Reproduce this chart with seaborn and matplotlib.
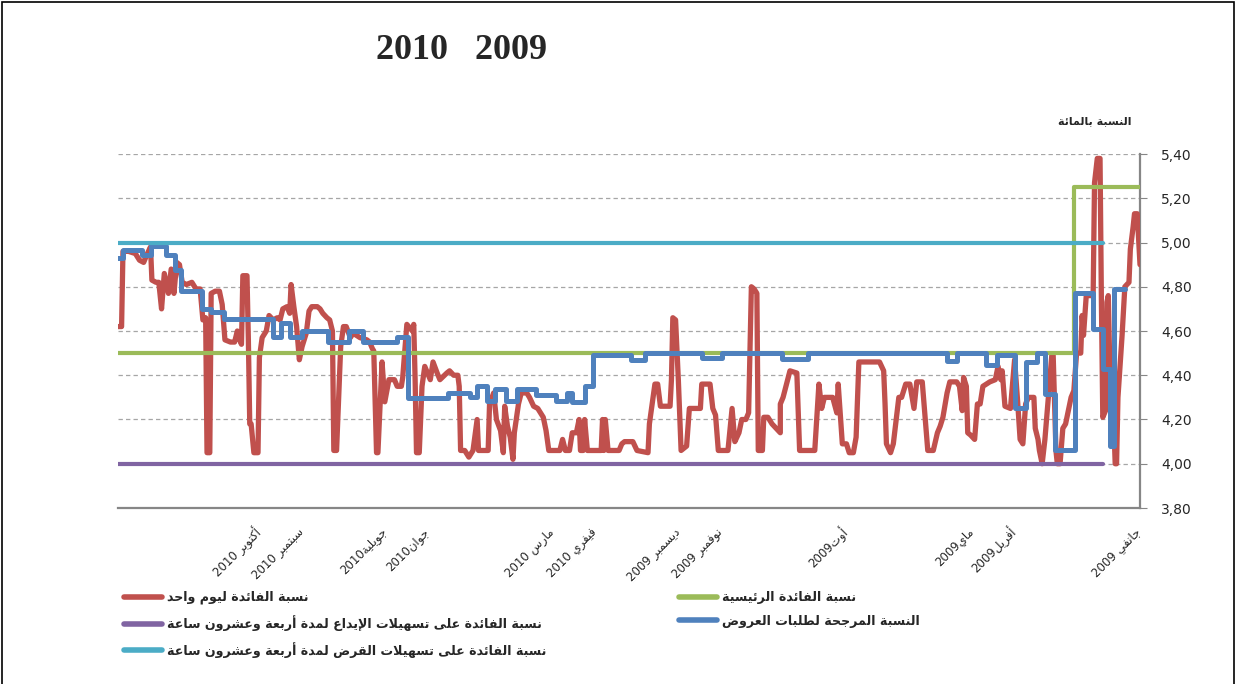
import re
import numpy as np
import pandas as pd
import matplotlib
matplotlib.use("Agg")
import matplotlib.pyplot as plt
import seaborn as sns
from matplotlib.patches import Rectangle
from matplotlib.lines import Line2D

sns.set_style("white")
plt.rcParams['font.family'] = ['DejaVu Sans']

# ---- data (x = day offset from 1 Jan 2009, axis runs right-to-left) ----
red_days = [0, 2, 4, 5, 7, 8, 11, 13, 15, 16, 17, 18, 20, 22, 23, 24, 25, 27, 28, 29,
            31, 33, 34, 39, 40, 41, 42, 43, 46, 48, 50, 52, 54, 56, 58, 60, 61, 63, 64, 69,
            71, 73, 74, 76, 77, 81, 83, 85, 87, 89, 91, 94, 98, 100, 101, 103, 105, 109, 114, 116,
            118, 120, 123, 125, 126, 128, 129, 131, 133, 138, 140, 143, 145, 147, 150, 154, 158, 162, 164, 167,
            170, 173, 175, 179, 181, 184, 185, 186, 189, 204, 206, 208, 211, 213, 216, 219, 220, 223, 229, 231,
            233, 236, 247, 249, 254, 259, 261, 261, 267, 270, 273, 274, 277, 278, 280, 282, 284, 286, 289, 291,
            294, 296, 299, 306, 308, 310, 312, 318, 319, 327, 329, 333, 335, 337, 339, 340, 341, 348, 350, 352,
            356, 357, 365, 368, 374, 376, 378, 386, 388, 389, 390, 391, 401, 403, 404, 406, 407, 409, 412, 414,
            417, 419, 421, 429, 431, 433, 437, 440, 443, 445, 449, 451, 454, 455, 457, 459, 461, 462, 464, 467,
            469, 472, 473, 480, 481, 484, 487, 490, 493, 494, 495, 498, 501, 503, 508, 510, 513, 515, 519, 521,
            523, 525, 526, 527, 528, 532, 535, 536, 539, 541, 545, 548, 550, 553, 554, 556, 557, 559, 561, 566,
            571, 573, 576, 578, 580, 583, 585, 586, 588, 590, 593, 595, 597, 601, 603, 605, 608, 610, 612, 614,
            616, 617, 619, 622, 624, 626, 629, 632, 634, 637, 639, 640, 643, 645, 646, 647, 648, 651, 652, 654,
            655, 657, 660, 664, 666, 668, 671, 674, 675, 677, 678, 680, 682, 685, 688, 692, 695, 697, 699, 701,
            703, 705, 708, 710, 712, 714, 717, 718, 721, 723, 726, 729, 734, 738, 739, 742]
red_vals = [4.90, 5.13, 5.13, 5.07, 4.97, 4.82, 4.80, 4.58, 4.39, 4.30, 4.00, 4.00, 4.36, 4.46, 4.76, 4.73, 4.24, 4.21, 4.73, 5.38,
            5.38, 5.27, 4.76, 4.76, 4.67, 4.58, 4.67, 4.50, 4.50, 4.33, 4.30, 4.24, 4.18, 4.16, 4.00, 4.00, 4.06, 4.49, 4.49, 4.11,
            4.00, 4.06, 4.11, 4.16, 4.30, 4.30, 4.27, 4.09, 4.11, 4.30, 4.47, 4.25, 4.26, 4.42, 4.38, 4.44, 4.38, 4.37, 4.35, 4.27,
            4.27, 4.11, 4.13, 4.14, 4.35, 4.39, 4.24, 4.35, 4.37, 4.37, 4.32, 4.21, 4.17, 4.14, 4.06, 4.06, 4.37, 4.37, 4.25, 4.36,
            4.36, 4.30, 4.30, 4.09, 4.05, 4.09, 4.27, 4.42, 4.46, 4.46, 4.12, 4.05, 4.05, 4.09, 4.09, 4.36, 4.23, 4.30, 4.30, 4.25,
            4.36, 4.06, 4.06, 4.41, 4.42, 4.30, 4.27, 4.14, 4.18, 4.21, 4.21, 4.06, 4.06, 4.77, 4.79, 4.80, 4.23, 4.20, 4.20, 4.14,
            4.10, 4.25, 4.06, 4.06, 4.22, 4.25, 4.36, 4.36, 4.25, 4.25, 4.08, 4.06, 4.38, 4.65, 4.66, 4.38, 4.26, 4.26, 4.36, 4.36,
            4.18, 4.05, 4.06, 4.10, 4.10, 4.09, 4.06, 4.06, 4.20, 4.06, 4.20, 4.06, 4.06, 4.20, 4.06, 4.06, 4.20, 4.14, 4.14, 4.06,
            4.06, 4.11, 4.06, 4.06, 4.15, 4.21, 4.25, 4.26, 4.30, 4.32, 4.32, 4.27, 4.14, 4.02, 4.12, 4.17, 4.26, 4.05, 4.15, 4.20,
            4.32, 4.27, 4.06, 4.06, 4.20, 4.06, 4.03, 4.06, 4.06, 4.35, 4.40, 4.40, 4.42, 4.41, 4.38, 4.41, 4.46, 4.38, 4.44, 4.35,
            4.05, 4.05, 4.38, 4.63, 4.60, 4.63, 4.39, 4.35, 4.35, 4.38, 4.38, 4.28, 4.46, 4.05, 4.05, 4.51, 4.52, 4.55, 4.56, 4.57,
            4.59, 4.57, 4.62, 4.62, 4.53, 4.06, 4.06, 4.60, 4.65, 4.66, 4.68, 4.70, 4.71, 4.71, 4.69, 4.59, 4.53, 4.47, 4.62, 4.71,
            4.81, 4.68, 4.71, 4.70, 4.65, 4.66, 4.65, 4.67, 4.60, 4.57, 4.48, 4.05, 4.05, 4.18, 4.18, 4.56, 4.85, 4.85, 4.54, 4.57,
            4.60, 4.55, 4.55, 4.56, 4.72, 4.78, 4.78, 4.77, 4.05, 4.05, 4.66, 4.65, 4.79, 4.79, 4.82, 4.81, 4.82, 4.90, 4.91, 4.77,
            4.88, 4.77, 4.86, 4.70, 4.82, 4.82, 4.83, 4.98, 4.94, 4.91, 4.92, 4.95, 4.96, 4.96, 4.62, 4.62]

blue_days = [11, 19, 22, 27, 34, 47, 62, 69, 75, 83, 91, 104, 112, 133, 140, 241, 260, 303, 318, 359,
             369, 397, 403, 412, 416, 424, 438, 452, 460, 468, 474, 481, 486, 502, 531, 539, 564, 574, 589, 608,
             617, 623, 629, 665, 674, 681, 696, 700, 707, 718, 724, 738, 742]
blue_vals = [4.79, 4.08, 4.43, 4.61, 4.77, 4.06, 4.315, 4.50, 4.46, 4.25, 4.49, 4.445, 4.50, 4.465, 4.50, 4.475, 4.50, 4.48, 4.50, 4.47,
             4.49, 4.35, 4.28, 4.32, 4.285, 4.31, 4.34, 4.285, 4.34, 4.285, 4.35, 4.30, 4.32, 4.295, 4.575, 4.55, 4.60, 4.55, 4.60, 4.575,
             4.635, 4.575, 4.655, 4.685, 4.70, 4.78, 4.875, 4.945, 4.985, 4.945, 4.965, 4.93, 4.93]

green_days = [0, 48, 742]
green_vals = [5.25, 4.50, 4.50]
deposit_days = [27, 742]
deposit_vals = [4.00, 4.00]
lending_days = [27, 742]
lending_vals = [5.00, 5.00]

month_labels = ["جانفي 2009", "", "", "أفريل2009", "ماي2009", "", "", "أوت2009", "", "",
                "نوفمبر 2009", "ديسمبر 2009", "", "فيفري 2010", "مارس 2010", "", "", "جوان2010",
                "جويلية2010", "", "سبتمبر 2010", "أكتوبر 2010", "", "", ""]

labels = {
    "red": "نسبة الفائدة ليوم واحد",
    "purple": "نسبة الفائدة على تسهيلات الإيداع لمدة أربعة وعشرون ساعة",
    "cyan": "نسبة الفائدة على تسهيلات القرض لمدة أربعة وعشرون ساعة",
    "green": "نسبة الفائدة الرئيسية",
    "blue": "النسبة المرجحة لطلبات العروض",
}
ylabel = "النسبة بالمائة"
title = "2010   2009"

# ---- simple Arabic shaping (matplotlib has no complex text layout) ----
DUAL = {'ئ': 0xFE89, 'ب': 0xFE8F, 'ت': 0xFE95, 'ث': 0xFE99, 'ج': 0xFE9D, 'ح': 0xFEA1, 'خ': 0xFEA5,
        'س': 0xFEB1, 'ش': 0xFEB5, 'ص': 0xFEB9, 'ض': 0xFEBD, 'ط': 0xFEC1, 'ظ': 0xFEC5, 'ع': 0xFEC9,
        'غ': 0xFECD, 'ف': 0xFED1, 'ق': 0xFED5, 'ك': 0xFED9, 'ل': 0xFEDD, 'م': 0xFEE1, 'ن': 0xFEE5,
        'ه': 0xFEE9, 'ي': 0xFEF1}
RIGHT = {'آ': 0xFE81, 'أ': 0xFE83, 'ؤ': 0xFE85, 'إ': 0xFE87, 'ا': 0xFE8D, 'ة': 0xFE93, 'د': 0xFEA9,
         'ذ': 0xFEAB, 'ر': 0xFEAD, 'ز': 0xFEAF, 'و': 0xFEED, 'ى': 0xFEEF}
LAMALEF = {'آ': 0xFEF5, 'أ': 0xFEF7, 'إ': 0xFEF9, 'ا': 0xFEFB}


def shape(txt):
    out, prev, i = [], False, 0
    while i < len(txt):
        c = txt[i]
        nxt = txt[i + 1] if i + 1 < len(txt) else ''
        if c == 'ل' and nxt in LAMALEF:
            out.append(chr(LAMALEF[nxt] + (1 if prev else 0)))
            prev, i = False, i + 2
            continue
        if c in DUAL:
            nj = nxt in DUAL or nxt in RIGHT
            off = 3 if (prev and nj) else 1 if prev else 2 if nj else 0
            out.append(chr(DUAL[c] + off))
            prev = True
        elif c in RIGHT:
            out.append(chr(RIGHT[c] + (1 if prev else 0)))
            prev = False
        else:
            out.append(c)
            prev = False
        i += 1
    return ''.join(out)


def ar(txt):
    parts = re.findall(r'[0-9]+|[^0-9]+', shape(txt))
    return ''.join(p if p[0].isdigit() else p[::-1] for p in reversed(parts))


# ---- figure ----
fig = plt.figure(figsize=(12.37, 6.84), dpi=100)
ax = fig.add_axes([118 / 1237, 1 - 508 / 684, 1022 / 1237, 354 / 684])

red_df = pd.DataFrame({"day": red_days, "rate": red_vals})
blue_df = pd.DataFrame({"day": blue_days, "rate": blue_vals})
green_df = pd.DataFrame({"day": green_days, "rate": green_vals})
dep_df = pd.DataFrame({"day": deposit_days, "rate": deposit_vals})
lend_df = pd.DataFrame({"day": lending_days, "rate": lending_vals})

common = dict(x="day", y="rate", ax=ax, sort=False, estimator=None,
              solid_joinstyle="round", solid_capstyle="round")
sns.lineplot(data=red_df, color="#C0504D", lw=3.8, zorder=3, **common)
sns.lineplot(data=green_df, color="#9BBB59", lw=3.0, drawstyle="steps-post", zorder=4, **common)
sns.lineplot(data=dep_df, color="#8064A2", lw=3.0, zorder=5, **common)
sns.lineplot(data=blue_df, color="#4F81BD", lw=3.6, drawstyle="steps-post", zorder=6, **common)
sns.lineplot(data=lend_df, color="#4BACC6", lw=3.0, zorder=7, **common)

ax.set_xlim(741.6, 0)
ax.set_ylim(3.80, 5.40)

yt = np.round(np.arange(3.8, 5.41, 0.2), 2)
ax.yaxis.tick_right()
ax.set_yticks(yt)
ax.set_yticklabels([f"{v:.2f}".replace('.', ',') for v in yt], fontsize=10)
ax.grid(axis='y', linestyle=(0, (3.5, 2.5)), color='#A6A6A6', lw=0.9, zorder=1)

xt = 0.5 + 30.4 * np.arange(len(month_labels))
ax.set_xticks(xt)
ax.set_xticklabels([ar(m) for m in month_labels], rotation=45, ha='right',
                   va='center', rotation_mode='anchor', fontsize=8.5)
ax.tick_params(axis='x', direction='out', length=4, color='#868686', pad=12)
ax.tick_params(axis='y', direction='out', length=5, color='#868686', pad=10, right=True)
ax.set_xlabel("")
ax.set_ylabel("")

for s in ["left", "top"]:
    ax.spines[s].set_visible(False)
for s in ["bottom", "right"]:
    ax.spines[s].set_color('#868686')
    ax.spines[s].set_linewidth(1.6)

fig.text(0.373, 0.926, title, fontsize=26, fontweight='bold',
         family='Liberation Serif', ha='center', va='center')
fig.text(1095 / 1237, 1 - 121 / 684, ar(ylabel), fontsize=8, fontweight='bold',
         ha='center', va='center')

# legends (two columns placed like the original)
cols = {"red": "#C0504D", "purple": "#8064A2", "cyan": "#4BACC6",
        "green": "#9BBB59", "blue": "#4F81BD"}


def handles(keys):
    return [Line2D([0], [0], color=cols[k], lw=4, solid_capstyle='round') for k in keys]


leg_kw = dict(frameon=False, handlelength=3.0, handletextpad=0.4, labelspacing=0.85,
              prop={'weight': 'bold', 'size': 9.1}, borderaxespad=0, borderpad=0)
k1 = ["red", "purple", "cyan"]
k2 = ["green", "blue"]
fig.legend(handles(k1), [ar(labels[k]) for k in k1], loc='upper left',
           bbox_to_anchor=(124 / 1237, 1 - 591 / 684), **leg_kw)
fig.legend(handles(k2), [ar(labels[k]) for k in k2], loc='upper left',
           bbox_to_anchor=(679 / 1237, 1 - 591 / 684), **leg_kw)

fig.patches.append(Rectangle((2 / 1237, -0.02), 1232 / 1237, 1.0 - 2 / 684 + 0.02,
                             transform=fig.transFigure, fill=False, ec='black', lw=1.2))

fig.savefig("out.png", dpi=100)
